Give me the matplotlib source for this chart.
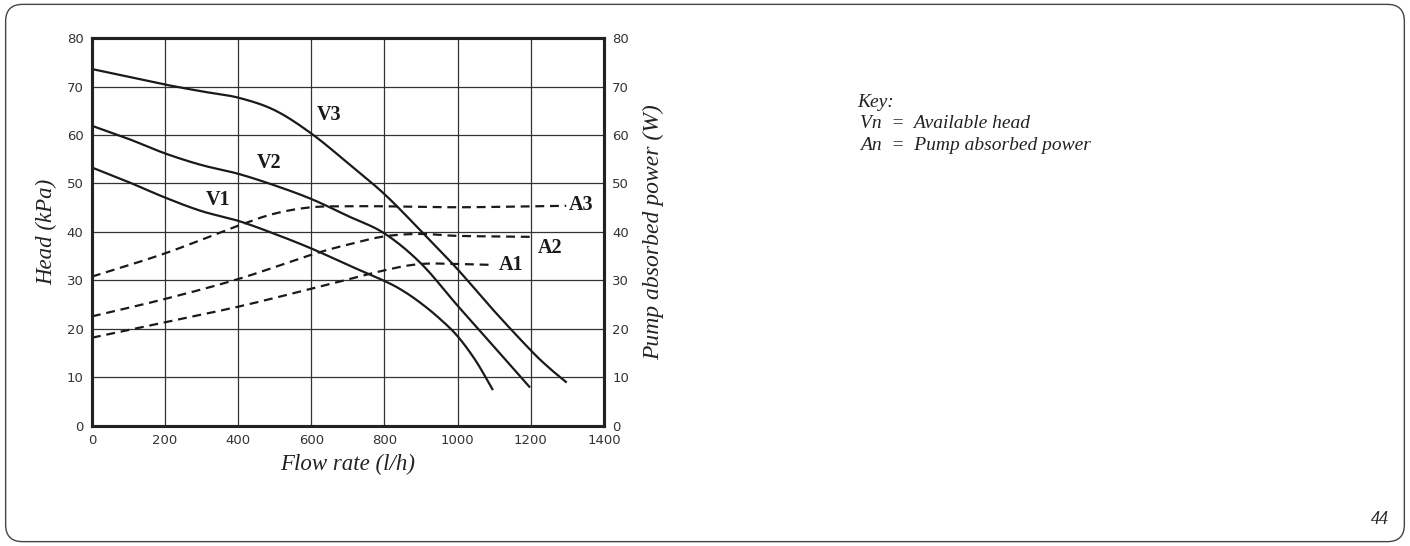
import numpy as np
import matplotlib.pyplot as plt
from matplotlib.patches import FancyBboxPatch

# Available head curves (kPa) vs flow rate (l/h)
v3_flow = [0, 100, 200, 300, 400, 500, 600, 700, 800, 900, 1000, 1100, 1200, 1250, 1296]
v3_head = [73.6, 72.0, 70.4, 69.0, 67.7, 65.1, 60.3, 54.2, 47.8, 40.2, 32.3, 23.7, 15.6, 12.0, 9.1]

v2_flow = [0, 100, 200, 300, 400, 500, 600, 700, 800, 900, 1000, 1100, 1196]
v2_head = [61.9, 59.2, 56.2, 53.8, 52.0, 49.6, 46.8, 43.3, 39.7, 33.5, 24.8, 16.3, 8.1]

v1_flow = [0, 100, 200, 300, 400, 500, 600, 700, 800, 850, 900, 950, 1000, 1050, 1095]
v1_head = [53.3, 50.3, 47.1, 44.3, 42.3, 39.6, 36.6, 33.2, 29.9, 27.9, 25.3, 22.2, 18.5, 13.4, 7.6]

# Pump absorbed power curves (W)
a3_flow = [0, 200, 400, 500, 600, 700, 800, 1000, 1200, 1297]
a3_power = [30.8, 35.6, 41.3, 43.8, 45.1, 45.3, 45.3, 45.1, 45.3, 45.4]

a2_flow = [0, 200, 400, 600, 700, 800, 900, 1000, 1200]
a2_power = [22.6, 26.2, 30.3, 35.3, 37.4, 39.1, 39.6, 39.2, 39.0]

a1_flow = [0, 200, 400, 600, 800, 900, 1000, 1098]
a1_power = [18.2, 21.4, 24.6, 28.3, 32.1, 33.4, 33.4, 33.2]

curve_labels = ["V3", "V2", "V1", "A3", "A2", "A1"]
label_x = [649, 485, 344, 1305, 1220, 1113]
label_y = [64.2, 54.3, 46.6, 45.5, 36.8, 33.1]

x_ticks = [0, 200, 400, 600, 800, 1000, 1200, 1400]
y_ticks = [0, 10, 20, 30, 40, 50, 60, 70, 80]


def smooth(xs, ys):
    # piecewise cubic through the read points (Catmull-Rom)
    xs = np.asarray(xs, float)
    ys = np.asarray(ys, float)
    px = np.concatenate([[2 * xs[0] - xs[1]], xs, [2 * xs[-1] - xs[-2]]])
    py = np.concatenate([[2 * ys[0] - ys[1]], ys, [2 * ys[-1] - ys[-2]]])
    out_x, out_y = [], []
    for i in range(1, len(px) - 2):
        t = np.linspace(0, 1, 20, endpoint=False)
        for arr, out in ((px, out_x), (py, out_y)):
            p0, p1, p2, p3 = arr[i - 1], arr[i], arr[i + 1], arr[i + 2]
            out.extend(0.5 * ((2 * p1) + (-p0 + p2) * t
                              + (2 * p0 - 5 * p1 + 4 * p2 - p3) * t ** 2
                              + (-p0 + 3 * p1 - 3 * p2 + p3) * t ** 3))
    out_x.append(xs[-1])
    out_y.append(ys[-1])
    return np.array(out_x), np.array(out_y)


fig = plt.figure(figsize=(14.1, 5.46), dpi=100)

# rounded page frame
frame = FancyBboxPatch((0.004, 0.008), 0.992, 0.984, boxstyle="round,pad=0,rounding_size=0.012",
                       transform=fig.transFigure, facecolor="none", edgecolor="#444444",
                       linewidth=1.0, mutation_aspect=1410 / 546, zorder=-5)
fig.patches.append(frame)

ax = fig.add_axes([0.0652, 0.2198, 0.3631, 0.7106])
ax.set_xlim(0, 1400)
ax.set_ylim(0, 80)
ax.set_xticks(x_ticks)
ax.set_yticks(y_ticks)
ax.grid(True, color="#333333", linewidth=0.9)
ax.set_axisbelow(True)
for s in ax.spines.values():
    s.set_linewidth(2.2)
    s.set_color("#222222")
ax.tick_params(length=0, pad=6, labelsize=9.5, labelcolor="#333333")

ax2 = ax.twinx()
ax2.set_ylim(0, 80)
ax2.set_yticks(y_ticks)
ax2.tick_params(length=0, pad=6, labelsize=9.5, labelcolor="#333333")
for s in ax2.spines.values():
    s.set_linewidth(2.2)
    s.set_color("#222222")

solid = dict(color="#1a1a1a", linewidth=1.6)
dashed = dict(color="#1a1a1a", linewidth=1.6, linestyle=(0, (4, 2.6)))

for fx, fy in ((v3_flow, v3_head), (v2_flow, v2_head), (v1_flow, v1_head)):
    sx, sy = smooth(fx, fy)
    ax.plot(sx, sy, **solid)
for fx, fy in ((a3_flow, a3_power), (a2_flow, a2_power), (a1_flow, a1_power)):
    sx, sy = smooth(fx, fy)
    ax2.plot(sx, sy, **dashed)

for lab, lx, ly in zip(curve_labels, label_x, label_y):
    ax.text(lx, ly, lab, family="Liberation Serif", fontweight="bold", fontsize=14.5,
            ha="left" if lab.startswith("A") else "center", va="center", color="#1a1a1a",
            clip_on=False)

serif_it = dict(family="Liberation Serif", style="italic", color="#222222")
ax.set_xlabel("Flow rate (l/h)", fontsize=16.5, labelpad=5, **serif_it)
ax.set_ylabel("Head (kPa)", fontsize=16.5, labelpad=7, **serif_it)
ax2.set_ylabel("Pump absorbed power (W)", fontsize=17, labelpad=10, **serif_it)

fig.text(0.608, 0.812, "Key:", fontsize=14, va="center", **serif_it)
fig.text(0.610, 0.774, "Vn  =  Available head", fontsize=14, va="center", **serif_it)
fig.text(0.610, 0.734, "An  =  Pump absorbed power", fontsize=14, va="center", **serif_it)
fig.text(0.985, 0.048, "44", fontsize=13, ha="right", va="center", **serif_it)

fig.savefig("out.png", dpi=100)
